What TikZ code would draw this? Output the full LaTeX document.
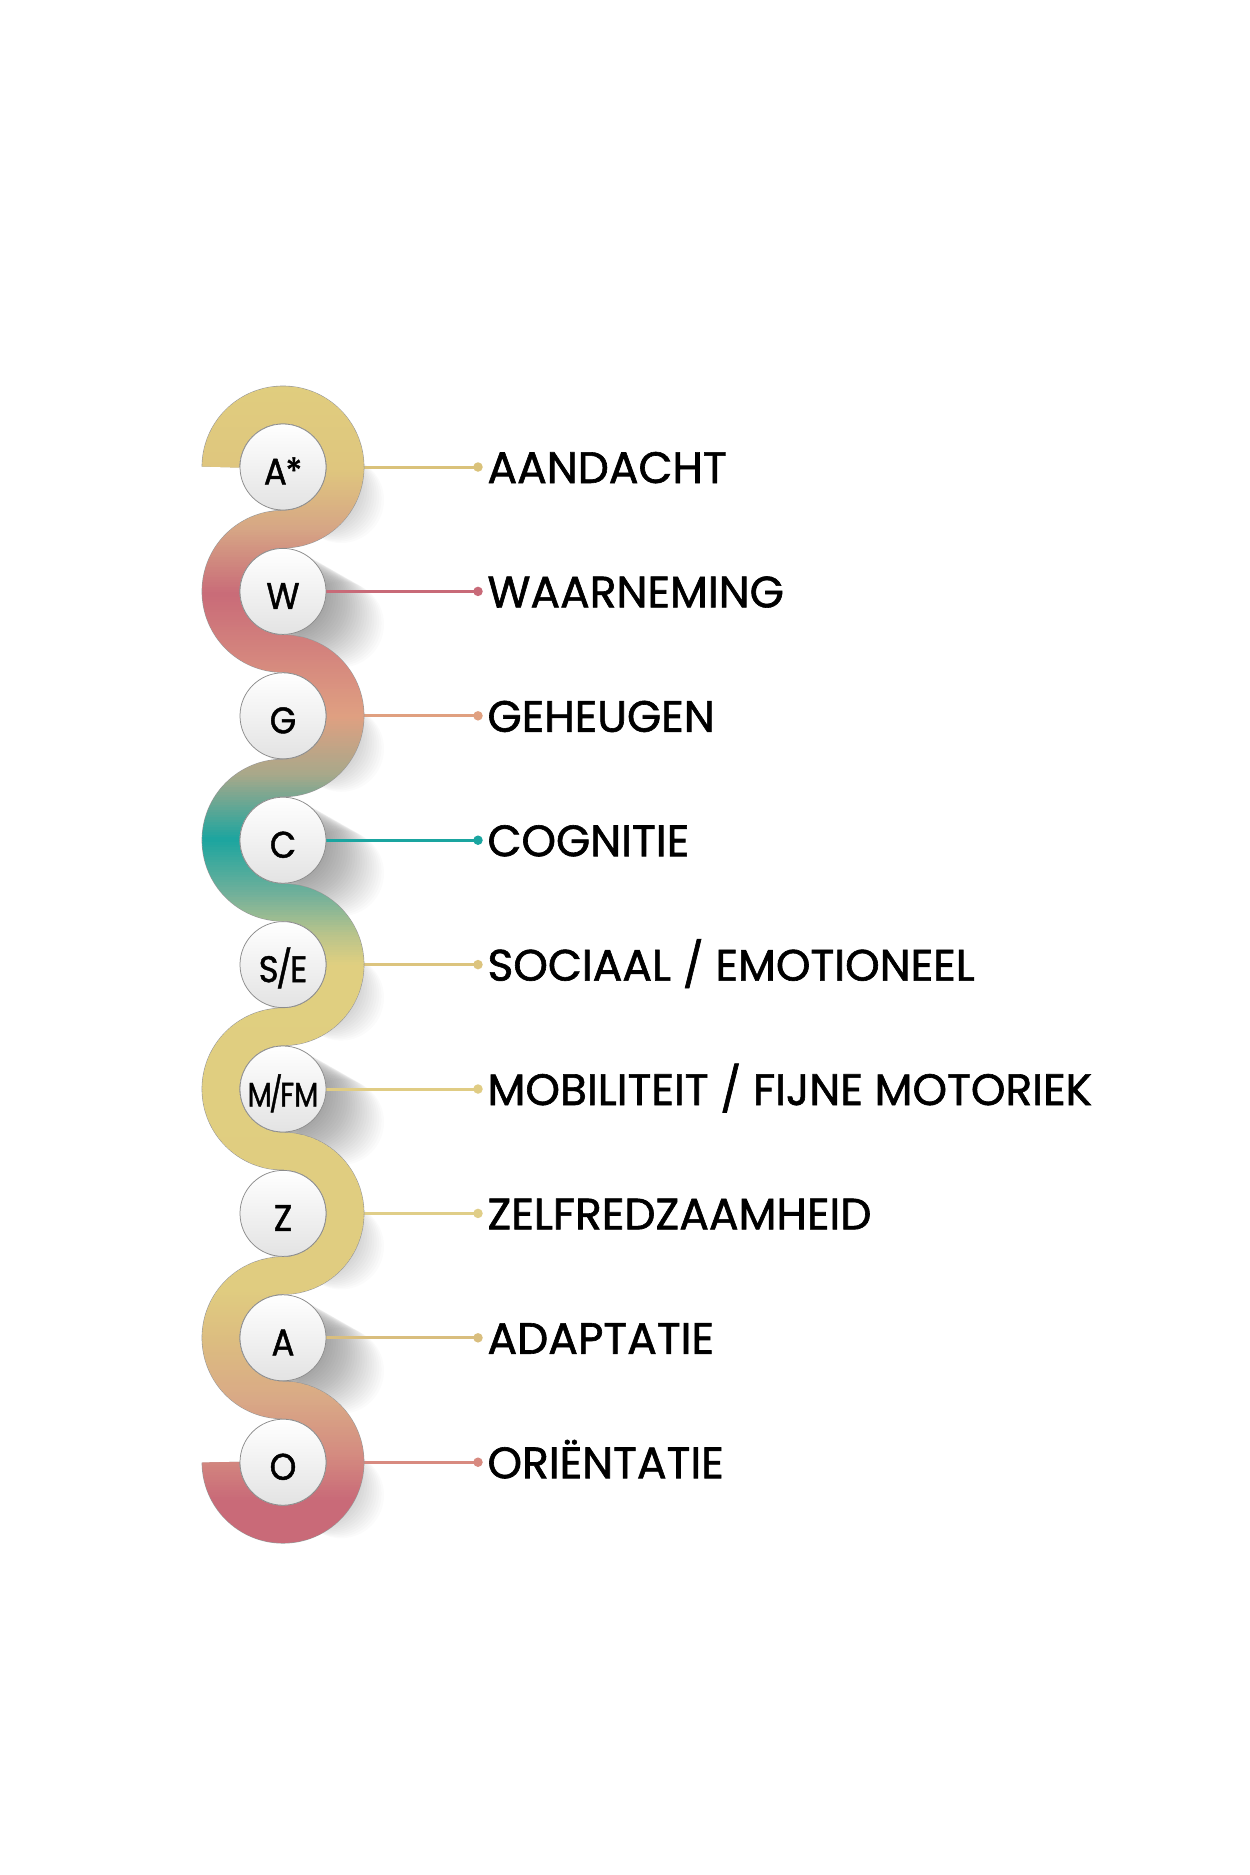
\documentclass[tikz,border=0pt]{standalone}
\usepackage{fontspec}
\setmainfont{Poppins}
\newfontfamily\labfont[FakeBold=1.4]{Poppins}
\newfontfamily\bubfont[FakeBold=1.2,FakeStretch=0.92]{Poppins}
\usetikzlibrary{calc}
\pgfdeclarelayer{shadl}
\pgfdeclarelayer{linel}
\pgfdeclarelayer{bandl}
\pgfsetlayers{shadl,linel,bandl,main}
% band gradient stops
\definecolor{s0}{HTML}{E0CD7E}
\definecolor{s1}{HTML}{DFC67E}
\definecolor{s2}{HTML}{D6A585}
\definecolor{s3}{HTML}{C96B78}
\definecolor{s4}{HTML}{D5877E}
\definecolor{s5}{HTML}{DFA081}
\definecolor{s6}{HTML}{A8A88A}
\definecolor{s7}{HTML}{1BA59F}
\definecolor{s8}{HTML}{72B09A}
\definecolor{s9}{HTML}{B9C48B}
\definecolor{s10}{HTML}{E0CF80}
\definecolor{s11}{HTML}{E0CC80}
\definecolor{s12}{HTML}{DCBD80}
\definecolor{s13}{HTML}{D9A986}
\definecolor{s14}{HTML}{D48B80}
\definecolor{s15}{HTML}{C96A78}
% connector colours
\definecolor{la}{HTML}{DAC27A}
\definecolor{lb}{HTML}{C86A78}
\definecolor{lc}{HTML}{E0A080}
\definecolor{ld}{HTML}{1AA5A0}
\definecolor{le}{HTML}{DCC47E}
\definecolor{lf}{HTML}{E0CC84}
\definecolor{lg}{HTML}{E0CE88}
\definecolor{lh}{HTML}{D9BE7E}
\definecolor{li}{HTML}{D88A80}
\begin{document}
\begin{tikzpicture}[x=0.4pt,y=-0.4pt,
  snakep/.style={insert path={(220.8,467)
     arc[start angle=180,end angle=450,radius=62.2]
     arc[start angle=270,end angle=90,radius=62.2]
     arc[start angle=270,end angle=450,radius=62.2]
     arc[start angle=270,end angle=90,radius=62.2]
     arc[start angle=270,end angle=450,radius=62.2]
     arc[start angle=270,end angle=90,radius=62.2]
     arc[start angle=270,end angle=450,radius=62.2]
     arc[start angle=270,end angle=90,radius=62.2]
     arc[start angle=270,end angle=540,radius=62.2]}},
  bub/.style={circle,minimum size=34.4pt,inner sep=0pt,draw=black!45,line width=0.3pt,
     top color=white,bottom color=black!11,text height=14pt,text depth=0pt,
     font=\bubfont\fontsize{14.8}{16}\selectfont},
  dotn/.style={circle,minimum size=3.8pt,inner sep=0pt},
  lab/.style={anchor=base west,inner sep=0pt,font=\labfont\fontsize{17.6}{20}\selectfont},
  conn/.style={line width=1.2pt}]
\useasboundingbox (0,0) rectangle (1250,1875);
\begin{pgfonlayer}{shadl}
\fill[white] (0,0) rectangle (1250,1875);
\end{pgfonlayer}
% rows
\foreach \i/\bubt/\txt/\lcol in {0/{A\kern-0.5pt*}/AANDACHT/la,1/W/WAARNEMING/lb,2/G/GEHEUGEN/lc,3/C/COGNITIE/ld,4/{S\kern-1pt/\kern-1ptE}/{SOCIAAL / EMOTIONEEL}/le,5/{\scalebox{0.82}[0.92]{M\kern-1.2pt/\kern-1.2ptFM}}/{MOBILITEIT / FIJNE MOTORIEK}/lf,6/Z/ZELFREDZAAMHEID/lg,7/A/ADAPTATIE/lh,8/O/ORIËNTATIE/li}{
  \pgfmathsetmacro{\yy}{467+124.4*\i}
  \node[bub] (c\i) at (283,\yy) {\bubt};
  \node[dotn,fill=\lcol] (d\i) at (478,\yy) {};
  \node[lab] (t\i) at (487,\yy+16) {\txt};
  \begin{pgfonlayer}{shadl}
    \foreach \t in {0,...,24}{
      \fill[black,opacity=0.016] (283+58*\t/24,\yy+33*\t/24) circle[radius=43];
    }
  \end{pgfonlayer}
  \begin{pgfonlayer}{linel}
    \draw[conn,\lcol] (c\i.center) -- (d\i.center);
  \end{pgfonlayer}
}
% gradient band
\begin{pgfonlayer}{bandl}
\draw[line width=15.3pt,black!40,snakep];
\foreach \ya/\yb/\ca/\cb in {385/470/s0/s1,470/530/s1/s2,530/595/s2/s3,595/660/s3/s4,660/717/s4/s5,717/775/s5/s6,775/840/s6/s7,840/895/s7/s8,895/935/s8/s9,935/965/s9/s10,965/1290/s10/s11,1290/1340/s11/s12,1340/1400/s12/s13,1400/1455/s13/s14,1455/1500/s14/s15,1500/1546/s15/s15}{
  \pgfmathtruncatemacro{\n}{ceil((\yb-\ya)/2.5)}
  \pgfmathsetmacro{\dy}{(\yb-\ya)/\n}
  \foreach \k in {1,...,\n}{
    \pgfmathsetmacro{\p}{(\k-0.5)/\n*100}
    \pgfmathsetmacro{\ylo}{\ya+(\k-1)*\dy}
    \pgfmathsetmacro{\yhi}{\ylo+\dy+0.7}
    \colorlet{stripc}{\cb!\p!\ca}
    \begin{scope}
      \clip (150,\ylo) rectangle (420,\yhi);
      \draw[line width=14.8pt,stripc,snakep];
    \end{scope}
  }
}
\end{pgfonlayer}
\end{tikzpicture}
\end{document}
